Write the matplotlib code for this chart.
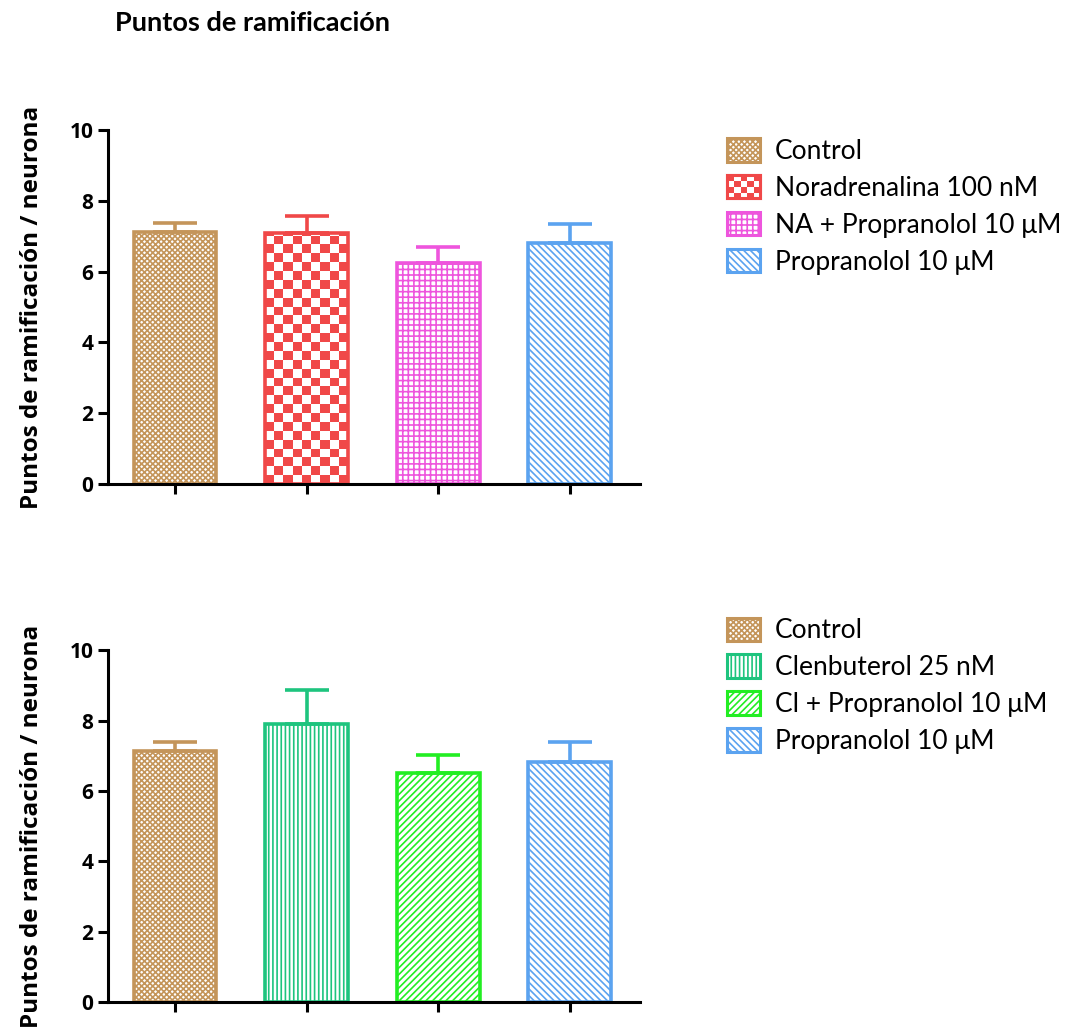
import matplotlib
matplotlib.use("Agg")
import numpy as np
import matplotlib.pyplot as plt
from matplotlib.patches import Patch, Rectangle
from matplotlib.legend_handler import HandlerBase

# Daten
labels_top = ["Control", "Noradrenalina 100 nM", "NA + Propranolol 10 \u03bcM", "Propranolol 10 \u03bcM"]
means_top = [7.12, 7.10, 6.25, 6.82]
err_top = [0.26, 0.46, 0.46, 0.54]

labels_bot = ["Control", "Clenbuterol 25 nM", "Cl + Propranolol 10 \u03bcM", "Propranolol 10 \u03bcM"]
means_bot = [7.12, 7.90, 6.50, 6.82]
err_bot = [0.26, 0.96, 0.52, 0.56]

colors_top = ["#C4955A", "#F04848", "#EE55DD", "#5BA3F0"]
hatches_top = ["xxxxxx", "checker", "+++", "\\\\\\\\\\"]
colors_bot = ["#C4955A", "#1EC47E", "#22EE22", "#5BA3F0"]
hatches_bot = ["xxxxxx", "||||", "/////", "\\\\\\\\\\"]

plt.rcParams["font.family"] = ["Open Sans", "DejaVu Sans"]
plt.rcParams["hatch.linewidth"] = 1.2


class CheckerHandler(HandlerBase):
    # Legendensymbol mit Schachbrettmuster
    def __init__(self, color, nx=5, ny=4):
        super().__init__()
        self.color = color
        self.nx = nx
        self.ny = ny

    def create_artists(self, legend, orig_handle, xdescent, ydescent, width, height, fontsize, trans):
        arts = [Rectangle((-xdescent, -ydescent), width, height, facecolor=self.color,
                          edgecolor=self.color, linewidth=2.2, transform=trans)]
        sw, sh = width / self.nx, height / self.ny
        for i in range(self.nx):
            for j in range(self.ny):
                if (i + j) % 2 == 0:
                    arts.append(Rectangle((-xdescent + i * sw, -ydescent + j * sh), sw, sh,
                                          facecolor="white", edgecolor="none", transform=trans))
        arts.append(Rectangle((-xdescent, -ydescent), width, height, facecolor="none",
                              edgecolor=self.color, linewidth=2.2, transform=trans))
        return arts


def checker_fill(ax, bar, color, nx=9, dy=0.25):
    x0, w, h = bar.get_x(), bar.get_width(), bar.get_height()
    ny = int(np.ceil(h / dy)) + 1
    ii, jj = np.meshgrid(np.arange(nx), np.arange(ny))
    mask = (ii + jj) % 2 == 0
    rgb = np.array(matplotlib.colors.to_rgb(color))
    img = np.ones((ny, nx, 3))
    img[mask] = rgb
    im = ax.imshow(img, extent=[x0, x0 + w, 0, ny * dy], origin="lower", aspect="auto",
                   interpolation="nearest", zorder=1.5)
    im.set_clip_path(bar)


def draw_panel(ax, labels, means, errs, colors, hatches, leg_y):
    x = range(len(means))
    hmap = {}
    for i in x:
        h = None if hatches[i] == "checker" else hatches[i]
        bar = ax.bar(i, means[i], width=0.63, facecolor="none" if h is None else "white",
                     edgecolor=colors[i], hatch=h, linewidth=2.6, zorder=2)[0]
        if h is None:
            checker_fill(ax, bar, colors[i])
        ax.errorbar(i, means[i], yerr=[[0], [errs[i]]], fmt="none", ecolor=colors[i],
                    elinewidth=2.6, capsize=16, capthick=2.6, zorder=3)
    ax.set_xlim(-0.51, 3.53)
    ax.set_ylim(0, 10)
    ax.set_yticks([0, 2, 4, 6, 8, 10])
    ax.set_xticks(list(x))
    ax.set_xticklabels([])
    for s in ["top", "right"]:
        ax.spines[s].set_visible(False)
    for s in ["left", "bottom"]:
        ax.spines[s].set_linewidth(2.2)
    ax.tick_params(axis="both", width=2.2, length=7, direction="out")
    for t in ax.get_yticklabels():
        t.set_fontweight("bold")
        t.set_fontsize(15)
    ax.set_ylabel("Puntos de ramificación / neurona", fontsize=17.5, fontweight="bold", labelpad=18)
    handles = []
    for c, h, l in zip(colors, hatches, labels):
        p = Patch(facecolor="white", edgecolor=c, hatch=None if h == "checker" else h,
                  linewidth=2.2, label=l)
        handles.append(p)
        if h == "checker":
            hmap[p] = CheckerHandler(c)
    ax.legend(handles=handles, handler_map=hmap, loc="upper left", bbox_to_anchor=(1.12, leg_y),
              frameon=False, prop={"family": ["Lato", "DejaVu Sans"], "size": 19},
              handlelength=1.25, handleheight=1.0, labelspacing=0.42, handletextpad=0.55)


fig = plt.figure(figsize=(10.68, 10.29), dpi=100)
ax1 = fig.add_axes([0.101, 0.5296, 0.498, 0.344])
ax2 = fig.add_axes([0.101, 0.0262, 0.498, 0.342])

draw_panel(ax1, labels_top, means_top, err_top, colors_top, hatches_top, 1.045)
draw_panel(ax2, labels_bot, means_bot, err_bot, colors_bot, hatches_bot, 1.16)

fig.text(0.108, 0.978, "Puntos de ramificación", fontsize=19.5, fontweight="bold",
         family=["Lato", "DejaVu Sans"], va="center")

fig.savefig("out.png", dpi=100)
